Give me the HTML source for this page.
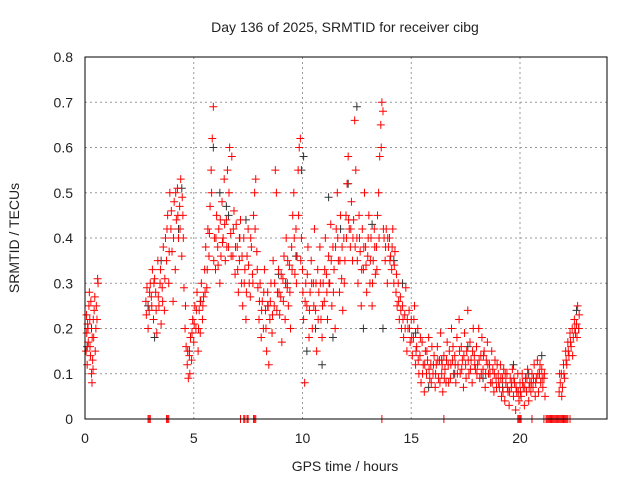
<!DOCTYPE html>
<html><head><meta charset="utf-8">
<style>
html,body{margin:0;padding:0;background:#fff;}
svg{display:block;font-family:"Liberation Sans",sans-serif;}
</style></head>
<body>
<svg id="chart" width="640" height="480" viewBox="0 0 640 480" xmlns="http://www.w3.org/2000/svg">
<rect width="640" height="480" fill="#fff"/>
<text x="345" y="32" font-size="14" text-anchor="middle" fill="#222">Day 136 of 2025, SRMTID for receiver cibg</text>
<text x="345" y="471" font-size="14" text-anchor="middle" fill="#222">GPS time / hours</text>
<text x="19" y="238" font-size="14" text-anchor="middle" fill="#222" transform="rotate(-90 19 238)">SRMTID / TECUs</text>
<g id="grid"></g>
<g id="ticks"></g>
<g id="black-series"></g>
<g id="red-series"></g>
<rect x="85" y="57" width="522" height="362" fill="none" stroke="#000" stroke-width="1"/>
</svg>
<script>
const xTicks = [0, 5, 10, 15, 20];
const yTicks = [0, 0.1, 0.2, 0.3, 0.4, 0.5, 0.6, 0.7, 0.8];
const yTickLabels = ["0","0.1","0.2","0.3","0.4","0.5","0.6","0.7","0.8"];
const redPoints = [
[0.05,.15],[0.08,.19],[0.1,.12],[0.12,.21],[0.15,.17],[0.18,.25],[0.2,.28],[0.22,.22],[0.25,.14],[0.27,.26],[0.3,.1],[0.32,.08],[0.35,.13],[0.37,.11],[0.4,.18],[0.42,.24],[0.45,.27],[0.5,.2],[0.55,.22],[0.58,.31],[0.6,.3],
[2.8,.26],[2.85,.29],[2.9,.2],[2.95,.24],[3.0,.3],[3.05,.27],[3.1,.33],[3.15,.22],[3.2,.31],[3.25,.28],[3.3,.19],[3.35,.35],[3.4,.25],[3.45,.3],[3.5,.21],[3.55,.29],[3.6,.38],[3.65,.24],[3.7,.4],[3.75,.35],[3.8,.45],[3.85,.3],[3.9,.5],[3.95,.42],[4.0,.37],[4.05,.26],[4.1,.48],[4.15,.33],[4.2,.44],[4.25,.51],[4.3,.4],[4.35,.47],[4.4,.53],[4.45,.36],[4.5,.45],[4.55,.29],
[4.6,.2],[4.65,.16],[4.7,.12],[4.75,.09],[4.8,.14],[4.85,.18],[4.9,.13],[4.95,.22],[5.0,.17],[5.05,.25],[5.1,.2],[5.15,.28],[5.2,.15],[5.25,.24],[5.3,.19],[5.35,.3],[5.4,.22],[5.45,.27],[5.5,.33],
[5.55,.38],[5.6,.29],[5.65,.42],[5.7,.36],[5.75,.47],[5.8,.55],[5.85,.62],[5.9,.69],[5.95,.4],[6.0,.33],[6.05,.45],[6.1,.38],[6.15,.42],[6.2,.3],[6.25,.36],[6.3,.48],[6.35,.4],[6.4,.53],[6.45,.35],[6.5,.44],[6.55,.55],[6.6,.38],[6.65,.6],[6.7,.41],[6.75,.58],[6.8,.36],[6.85,.46],[6.9,.32],[6.95,.43],
[7.0,.38],[7.05,.28],[7.1,.35],[7.15,.44],[7.2,.3],[7.25,.25],[7.3,.4],[7.35,.33],[7.4,.22],[7.45,.36],[7.5,.42],[7.55,.3],[7.6,.27],[7.65,.38],[7.7,.32],[7.75,.45],[7.8,.5],[7.85,.53],[7.9,.37],[7.95,.29],
[8.0,.22],[8.05,.3],[8.1,.18],[8.15,.26],[8.2,.2],[8.25,.33],[8.3,.24],[8.35,.15],[8.4,.28],[8.45,.12],[8.5,.22],[8.55,.3],[8.6,.19],[8.65,.35],[8.7,.25],[8.75,.55],[8.8,.5],[8.85,.28],[8.9,.33],[8.95,.23],
[9.0,.27],[9.05,.17],[9.1,.31],[9.15,.36],[9.2,.22],[9.25,.4],[9.3,.29],[9.35,.25],[9.4,.34],[9.45,.2],[9.5,.38],[9.55,.45],[9.6,.5],[9.65,.32],[9.7,.42],[9.75,.36],[9.8,.55],[9.85,.6],[9.9,.62],[9.95,.4],
[10.0,.33],[10.05,.22],[10.1,.08],[10.15,.3],[10.2,.25],[10.25,.38],[10.3,.18],[10.35,.28],[10.4,.35],[10.45,.2],[10.5,.3],[10.55,.42],[10.6,.24],[10.65,.15],[10.7,.33],[10.75,.28],[10.8,.38],[10.85,.22],[10.9,.18],[10.95,.3],
[11.0,.26],[11.05,.4],[11.1,.32],[11.15,.22],[11.2,.36],[11.25,.3],[11.3,.43],[11.35,.25],[11.4,.38],[11.45,.33],[11.5,.2],[11.55,.42],[11.6,.5],[11.65,.35],[11.7,.28],[11.75,.45],[11.8,.31],[11.85,.24],[11.9,.4],[11.95,.35],
[12.0,.45],[12.05,.52],[12.1,.58],[12.15,.42],[12.2,.38],[12.25,.48],[12.3,.35],[12.35,.44],[12.4,.66],[12.45,.55],[12.5,.4],[12.55,.3],[12.6,.45],[12.65,.37],[12.7,.25],[12.75,.42],[12.8,.33],[12.85,.5],[12.9,.38],[12.95,.28],
[13.0,.36],[13.05,.45],[13.1,.3],[13.15,.4],[13.2,.25],[13.25,.35],[13.3,.42],[13.35,.32],[13.4,.38],[13.45,.45],[13.5,.5],[13.55,.58],[13.6,.65],[13.65,.7],[13.7,.68],[13.75,.4],[13.8,.35],[13.85,.42],[13.9,.3],[13.95,.38],
[14.0,.4],[14.05,.36],[14.1,.33],[14.15,.42],[14.2,.3],[14.25,.37],[14.3,.28],[14.35,.25],[14.4,.3],[14.45,.22],[14.5,.27],[14.55,.2],[14.6,.25],[14.65,.18],[14.7,.23],[14.75,.29],[14.8,.15],[14.85,.2],[14.9,.24],[14.95,.17],
[15.0,.22],[15.05,.14],[15.1,.18],[15.15,.25],[15.2,.12],[15.25,.16],[15.3,.2],[15.35,.1],[15.4,.14],[15.45,.08],[15.5,.17],[15.55,.12],[15.6,.06],[15.65,.15],[15.7,.1],[15.75,.13],[15.8,.18],[15.85,.09],[15.9,.12],[15.95,.16],
[16.0,.1],[16.05,.14],[16.1,.07],[16.15,.12],[16.2,.16],[16.25,.09],[16.3,.13],[16.35,.19],[16.4,.1],[16.45,.06],[16.5,.14],[16.55,.11],[16.6,.08],[16.65,.17],[16.7,.12],[16.75,.15],[16.8,.09],[16.85,.2],[16.9,.13],[16.95,.1],
[17.0,.14],[17.05,.08],[17.1,.18],[17.15,.12],[17.2,.22],[17.25,.1],[17.3,.16],[17.35,.13],[17.4,.07],[17.45,.19],[17.5,.12],[17.55,.15],[17.6,.24],[17.65,.1],[17.7,.17],[17.75,.13],[17.8,.08],[17.85,.2],[17.9,.14],[17.95,.11],
[18.0,.16],[18.05,.12],[18.1,.2],[18.15,.09],[18.2,.14],[18.25,.18],[18.3,.11],[18.35,.15],[18.4,.07],[18.45,.13],[18.5,.17],[18.55,.1],[18.6,.12],[18.65,.08],[18.7,.15],[18.75,.11],[18.8,.06],[18.85,.13],[18.9,.09],[18.95,.12],
[19.0,.1],[19.05,.07],[19.1,.12],[19.15,.05],[19.2,.09],[19.25,.11],[19.3,.04],[19.35,.08],[19.4,.1],[19.45,.06],[19.5,.03],[19.55,.09],[19.6,.07],[19.65,.11],[19.7,.05],[19.75,.08],[19.8,.02],[19.85,.06],[19.9,.1],[19.95,.04],
[20.0,.08],[20.05,.05],[20.1,.1],[20.15,.07],[20.2,.03],[20.25,.09],[20.3,.06],[20.35,.11],[20.4,.04],[20.45,.08],[20.5,.06],[20.55,.1],[20.6,.07],[20.65,.12],[20.7,.05],[20.75,.09],[20.8,.13],[20.85,.06],[20.9,.1],[20.95,.08],
[21.0,.11],[21.05,.07],[21.1,.09],[21.15,.05],[21.8,.06],[21.85,.08],[21.9,.1],[21.95,.07],[22.0,.12],[22.05,.09],[22.1,.15],[22.15,.12],[22.2,.17],[22.25,.14],[22.3,.19],[22.35,.16],[22.4,.2],[22.45,.18],[22.5,.22],[22.55,.19],[22.6,.21],[22.65,.25],[22.7,.2],
[2.9,0],[2.95,0],[3.0,0],[3.75,0],[3.8,0],[3.85,0],[7.15,0],[7.3,0],[7.35,0],[7.45,0],[7.5,0],[7.75,0],[7.8,0],[7.85,0],[13.65,0],[16.5,0],[19.9,0],[19.95,0],[20.0,0],[20.05,0],[20.55,0],[21.1,0],[21.2,0],[21.25,0],[21.3,0],[21.35,0],[21.4,0],[21.45,0],[21.5,0],[21.55,0],[21.6,0],[21.65,0],[21.7,0],[21.75,0],[21.8,0],[21.85,0],[21.9,0],[21.95,0],[22.0,0],[22.05,0],[22.1,0],[22.15,0],[22.2,0],[22.3,0]
];
const redExtra = [
[0.07,.23],[0.14,.2],[0.23,.16],[0.33,.18],[0.38,.22],[0.47,.15],[0.52,.25],
[2.82,.23],[2.97,.28],[3.07,.25],[3.17,.3],[3.27,.24],[3.37,.27],[3.47,.33],[3.57,.26],[3.67,.31],[3.77,.42],[3.87,.37],[3.97,.46],[4.07,.4],[4.17,.5],[4.27,.45],[4.37,.42],[4.47,.49],[4.52,.4],
[4.62,.25],[4.72,.15],[4.82,.1],[4.92,.19],[5.02,.21],[5.12,.24],[5.22,.2],[5.32,.26],[5.42,.25],[5.52,.28],
[5.62,.33],[5.72,.41],[5.82,.5],[5.92,.35],[6.02,.4],[6.12,.34],[6.22,.44],[6.32,.39],[6.42,.43],[6.52,.38],[6.62,.5],[6.72,.36],[6.82,.42],[6.92,.38],
[7.02,.33],[7.12,.4],[7.22,.36],[7.32,.3],[7.42,.28],[7.52,.34],[7.62,.4],[7.72,.3],[7.82,.42],[7.92,.33],
[8.02,.26],[8.12,.24],[8.22,.28],[8.32,.2],[8.42,.25],[8.52,.26],[8.62,.23],[8.72,.3],[8.82,.24],[8.92,.28],
[9.02,.32],[9.12,.26],[9.22,.3],[9.32,.35],[9.42,.28],[9.52,.33],[9.62,.4],[9.72,.3],[9.82,.45],[9.92,.35],
[10.02,.28],[10.12,.26],[10.22,.32],[10.32,.24],[10.42,.3],[10.52,.25],[10.62,.3],[10.72,.22],[10.82,.3],[10.92,.25],
[11.02,.33],[11.12,.28],[11.22,.3],[11.32,.35],[11.42,.28],[11.52,.38],[11.62,.4],[11.72,.35],[11.82,.38],[11.92,.3],
[12.02,.4],[12.12,.44],[12.22,.42],[12.32,.4],[12.42,.38],[12.52,.35],[12.62,.4],[12.72,.33],[12.82,.38],[12.92,.34],
[13.02,.4],[13.12,.35],[13.22,.3],[13.32,.38],[13.42,.33],[13.52,.4],[13.62,.6],[13.72,.42],[13.82,.38],[13.92,.4],
[14.02,.35],[14.12,.38],[14.22,.34],[14.32,.32],[14.42,.26],[14.52,.24],[14.62,.22],[14.72,.2],[14.82,.22],[14.92,.2],
[15.02,.18],[15.12,.22],[15.22,.15],[15.32,.13],[15.42,.18],[15.52,.1],[15.62,.12],[15.72,.15],[15.82,.11],[15.92,.08],
[16.02,.12],[16.12,.1],[16.22,.13],[16.32,.08],[16.42,.12],[16.52,.09],[16.62,.13],[16.72,.08],[16.82,.12],[16.92,.16],
[17.02,.12],[17.12,.1],[17.22,.15],[17.32,.11],[17.42,.14],[17.52,.09],[17.62,.13],[17.72,.11],[17.82,.15],[17.92,.12],
[18.02,.1],[18.12,.13],[18.22,.1],[18.32,.14],[18.42,.1],[18.52,.12],[18.62,.1],[18.72,.08],[18.82,.1],[18.92,.07],
[19.02,.08],[19.12,.09],[19.22,.06],[19.32,.1],[19.42,.07],[19.52,.06],[19.62,.08],[19.72,.09],[19.82,.07],[19.92,.06],
[20.02,.06],[20.12,.08],[20.22,.07],[20.32,.09],[20.42,.07],[20.52,.08],[20.62,.09],[20.72,.08],[20.82,.1],[20.92,.12],
[21.02,.09],[21.12,.1],[21.82,.1],[21.92,.05],[22.02,.1],[22.12,.13],[22.22,.15],[22.32,.17],[22.42,.14],[22.52,.2],[22.62,.18],[22.72,.23]
];
const blackPoints = [
[0.1,.16],[0.3,.2],[2.9,.25],[3.2,.18],[3.5,.35],[4.3,.42],[4.8,.15],[5.3,.26],[5.9,.6],[6.2,.5],[6.6,.45],[7.1,.4],[7.4,.44],[8.4,.25],[8.9,.32],[9.3,.3],[9.7,.36],[9.95,.55],[10.2,.15],[10.6,.2],[10.9,.12],[11.2,.49],[11.4,.18],[12.1,.52],[12.5,.69],[12.8,.2],[13.2,.43],[13.7,.2],[14.2,.35],[14.6,.3],[15.2,.19],[15.8,.07],[16.4,.13],[17.0,.1],[17.6,.16],[18.3,.09],[19.2,.07],[19.7,.12],[20.4,.1],[21.0,.14],[22.6,.24],[22.7,.2],[4.45,.51],[6.5,.47],[10.05,.58],[11.75,.42]
];

const X0 = 85, X1 = 607, Y0 = 419, Y1 = 57, XMAX = 24, YMAX = 0.8;
function xs(h){ return X0 + h / XMAX * (X1 - X0); }
function ys(v){ return Y0 - v / YMAX * (Y0 - Y1); }
const NS = "http://www.w3.org/2000/svg";
function mk(tag, attrs){ const e = document.createElementNS(NS, tag); for (const k in attrs) e.setAttribute(k, attrs[k]); return e; }

const grid = document.getElementById('grid');
const ticks = document.getElementById('ticks');
yTicks.forEach((v, i) => {
  const y = ys(v);
  if (v > 0 && v < YMAX) {
    const g = mk('line', {x1: X0, x2: X1, y1: y, y2: y, stroke: '#999', 'stroke-width': 1, 'stroke-dasharray': '2,3'});
    
    
    grid.appendChild(g);
  }
  const t = mk('text', {x: X0 - 12, y: y + 5, 'font-size': 14, 'text-anchor': 'end', fill: '#222'});
  t.textContent = yTickLabels[i];
  
  
  ticks.appendChild(t);
});
xTicks.forEach(h => {
  const x = xs(h);
  if (h > 0) {
    const g = mk('line', {x1: x, x2: x, y1: Y0, y2: Y1, stroke: '#999', 'stroke-width': 1, 'stroke-dasharray': '2,3'});
    
    
    grid.appendChild(g);
  }
  const t = mk('text', {x: x, y: Y0 + 24, 'font-size': 14, 'text-anchor': 'middle', fill: '#222'});
  t.textContent = String(h);
  
  
  ticks.appendChild(t);
});

function drawPlus(group, pts, color, name){
  pts.forEach(p => {
    const x = xs(p[0]), y = ys(p[1]);
    const d = `M${x-4},${y}H${x+4}M${x},${y-4}V${y+4}`;
    const e = mk('path', {d: d, stroke: color, 'stroke-width': 1, fill: 'none'});
    
    
    group.appendChild(e);
  });
}
drawPlus(document.getElementById('black-series'), blackPoints, '#333', 'black-point');
drawPlus(document.getElementById('red-series'), redPoints, '#ff0000', 'red-point');
drawPlus(document.getElementById('red-series'), redExtra, '#ff0000', 'red-point');
</script>
</body></html>
